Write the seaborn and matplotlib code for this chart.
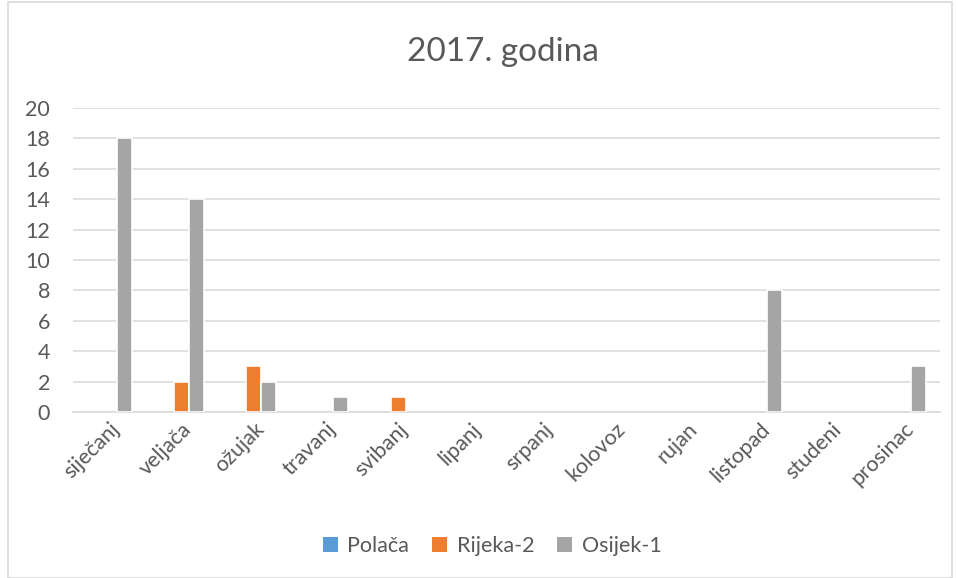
import matplotlib
matplotlib.use("Agg")
import matplotlib.pyplot as plt
import seaborn as sns
import pandas as pd
from matplotlib.patches import Rectangle, Patch

months = ["siječanj", "veljača", "ožujak", "travanj", "svibanj", "lipanj",
          "srpanj", "kolovoz", "rujan", "listopad", "studeni", "prosinac"]
series_names = ["Polača", "Rijeka-2", "Osijek-1"]
polaca = [0, 0, 0, 0, 0, 0, 0, 0, 0, 0, 0, 0]
rijeka2 = [0, 2, 3, 0, 1, 0, 0, 0, 0, 0, 0, 0]
osijek1 = [18, 14, 2, 1, 0, 0, 0, 0, 0, 8, 0, 3]
colors = ["#5B9BD5", "#ED7D31", "#A5A5A5"]
yticks = [0, 2, 4, 6, 8, 10, 12, 14, 16, 18, 20]

df = pd.DataFrame({
    "mjesec": months * 3,
    "postaja": [s for s in series_names for _ in months],
    "vrijednost": polaca + rijeka2 + osijek1,
})

sns.set_theme(style="white")
plt.rcParams["font.family"] = ["Lato", "DejaVu Sans"]

fig = plt.figure(figsize=(9.58, 5.78), dpi=100)
ax = fig.add_axes([73 / 958, 1 - 412 / 578, (940 - 73) / 958, (412 - 108) / 578])

sns.barplot(data=df, x="mjesec", y="vrijednost", hue="postaja",
            hue_order=series_names, order=months, palette=colors,
            saturation=1, width=0.62, edgecolor="white", linewidth=1.2,
            ax=ax, legend=False, zorder=3)

# zero-height bars would leave white edge ticks on the baseline
for p in ax.patches:
    if p.get_height() == 0:
        p.set_visible(False)

ax.set_ylim(0, 20)
ax.set_xlim(-0.5, len(months) - 0.5)
ax.set_yticks(yticks)
ax.set_yticklabels([str(v) for v in yticks])
ax.yaxis.grid(True, color="#D9D9D9", linewidth=1.1, zorder=0)
ax.set_axisbelow(True)
for side in ["top", "right", "left"]:
    ax.spines[side].set_visible(False)
ax.spines["bottom"].set_color("#D9D9D9")
ax.spines["bottom"].set_linewidth(1.1)
ax.set_xlabel("")
ax.set_ylabel("")
ax.tick_params(axis="both", length=0, colors="#595959", labelsize=15.5)
ax.tick_params(axis="y", pad=16.5)
plt.setp(ax.get_xticklabels(), rotation=45, ha="right", rotation_mode="anchor")
ax.tick_params(axis="x", pad=5)

fig.text(503 / 958, 1 - 52 / 578, "2017. godina", ha="center", va="center",
         fontsize=24, color="#595959")

handles = [Patch(facecolor=c, edgecolor="none") for c in colors]
fig.legend(handles, series_names, loc="center", bbox_to_anchor=(492 / 958, 1 - 546 / 578),
           ncol=3, frameon=False, fontsize=15.5, handlelength=0.7,
           handleheight=0.7, handletextpad=0.45, columnspacing=1.05,
           labelcolor="#595959")

fig.patches.append(Rectangle((8 / 958, 0), 944 / 958, 0.997, transform=fig.transFigure,
                             fill=False, edgecolor="#D9D9D9", linewidth=1.2))

fig.savefig("out.png", dpi=100)
